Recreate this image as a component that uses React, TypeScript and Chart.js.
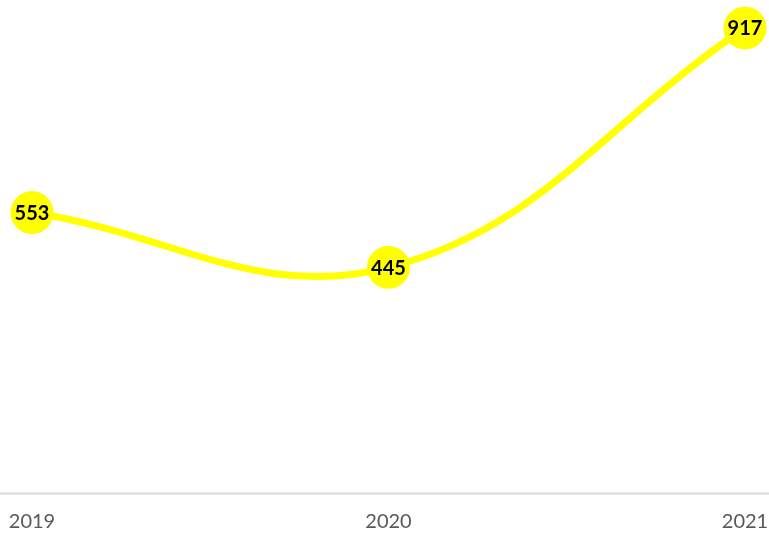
import React, { useEffect, useRef } from "react";
import { Chart, registerables } from "chart.js";

Chart.register(...registerables);

const categories = ["2019", "2020", "2021"];
const values = [553, 445, 917];

const labelPlugin = {
  id: "pointLabels",
  beforeDatasetsDraw(chart: any) {
    const ctx = chart.ctx;
    const y = Math.round(chart.chartArea.bottom) + 0.5;
    ctx.save();
    ctx.strokeStyle = "#d9d9d9";
    ctx.lineWidth = 2;
    ctx.beginPath();
    ctx.moveTo(0, y);
    ctx.lineTo(chart.width, y);
    ctx.stroke();
    ctx.restore();
  },
  afterDatasetsDraw(chart: any) {
    const ctx = chart.ctx;
    const meta = chart.getDatasetMeta(0);
    ctx.save();
    ctx.font = "bold 20px Lato, 'Liberation Sans', sans-serif";
    ctx.fillStyle = "#000000";
    ctx.textAlign = "center";
    ctx.textBaseline = "middle";
    meta.data.forEach((el: any, i: number) => {
      ctx.fillText(String(values[i]), el.x, el.y + 1);
    });
    ctx.restore();
  },
};

export default function App() {
  const ref = useRef<HTMLCanvasElement | null>(null);
  useEffect(() => {
    if (!ref.current) return;
    const chart = new Chart(ref.current, {
      type: "line",
      data: {
        labels: categories,
        datasets: [
          {
            data: values,
            borderColor: "#ffff00",
            backgroundColor: "#ffff00",
            borderWidth: 7,
            tension: 0.4,
            pointRadius: 21.5,
            pointHoverRadius: 21.5,
            pointBackgroundColor: "#ffff00",
            pointBorderColor: "#ffff00",
            pointBorderWidth: 0,
            clip: false as any,
          },
        ],
      },
      options: {
        animation: false,
        responsive: false,
        maintainAspectRatio: false,
        layout: { padding: { top: 28, left: 32, right: 24, bottom: 0 } },
        plugins: { legend: { display: false }, tooltip: { enabled: false } },
        scales: {
          x: {
            offset: false,
            grid: { display: false, drawTicks: false },
            border: { display: false },
            ticks: {
              color: "#595959",
              font: { size: 20, family: "Lato, 'Liberation Sans', sans-serif" },
              padding: 17,
              maxRotation: 0,
              autoSkip: false,
            },
            afterFit(scale: any) {
              scale.paddingLeft = 0;
              scale.paddingRight = 0;
              scale.height = 44;
            },
          },
          y: {
            display: false,
            min: 0,
            max: 917,
          },
        },
      },
      plugins: [labelPlugin],
    });
    return () => chart.destroy();
  }, []);
  return (
    <div style={{ position: "fixed", left: 0, top: 0, width: 769, height: 537, background: "#fff" }}>
      <canvas ref={ref} width={769} height={537} style={{ display: "block" }} />
    </div>
  );
}
